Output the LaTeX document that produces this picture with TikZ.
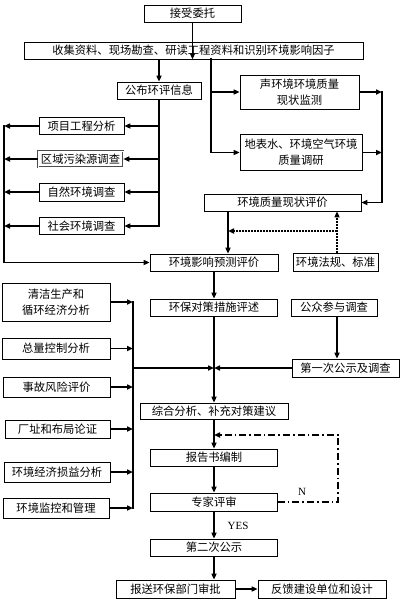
\documentclass[tikz,border=0pt]{standalone}
\usepackage{fontspec}
\setmainfont{Liberation Serif}
\newfontfamily\cjk{Noto Sans CJK SC}
\usetikzlibrary{arrows.meta}
\tikzset{
  wh/.style 2 args={minimum width=#1pt, minimum height=#2pt},
  box/.style={draw, line width=0.7pt, inner sep=0pt, align=center,
    font=\cjk\fontsize{11.3}{16}\selectfont},
  dbox/.style={box, draw=black!70, double=white, double distance=0.8pt, line width=0.5pt},
  ln/.style={line width=1.5pt, line cap=rect},
  arr/.style={line width=1.5pt, -{Triangle[length=6pt,width=5pt]}},
  dotarr/.style={line width=1.6pt, dash pattern=on 1.6pt off 1.4pt, -{Triangle[length=6pt,width=5pt]}},
  ddarr/.style={line width=1.5pt, dash pattern=on 7pt off 3pt on 1.6pt off 3pt, -{Triangle[length=6pt,width=5pt]}},
  lab/.style={inner sep=0pt, font=\fontsize{11}{13}\selectfont}
}
\begin{document}
\begin{tikzpicture}[x=1pt,y=-1pt]
\useasboundingbox[fill=white] (0,0) rectangle (405,605);
% nodes
\node[box, wh={97}{17}] (wt) at (192.5,13.5) {接受委托};
\node[box, wh={339}{17}] (sj) at (193.5,50.5) {收集资料、现场勘查、研读工程资料和识别环境影响因子};
\node[box, wh={84}{17}] (gb) at (159,90.5) {公布环评信息};
\node[box, wh={119}{34}] (sh) at (299.5,92) {声环境环境质量\\现状监测};
\node[box, wh={122}{36}] (db) at (301,152.5) {地表水、环境空气环境\\质量调研};
\node[box, wh={85}{17}] (xm) at (81.5,126) {项目工程分析};
\node[dbox, wh={85}{16}] (qy) at (80.5,159) {区域污染源调查};
\node[box, wh={85}{18}] (zr) at (81.5,192) {自然环境调查};
\node[box, wh={85}{17}] (shh) at (81.5,226) {社会环境调查};
\node[box, wh={157}{17}] (zl) at (282.5,202.5) {环境质量现状评价};
\node[box, wh={128}{17}] (yc) at (214,262.5) {环境影响预测评价};
\node[box, wh={85}{18}] (fg) at (335.5,262) {环境法规、标准};
\node[box, wh={127}{17}] (hb) at (214,307.5) {环保对策措施评述};
\node[box, wh={86}{17}] (gz) at (334,307.5) {公众参与调查};
\node[box, wh={107}{18}] (dy) at (345.5,368) {第一次公示及调查};
\node[box, wh={148}{16}] (zh) at (214,411) {综合分析、补充对策建议};
\node[box, wh={127}{17}] (bg) at (214,457.5) {报告书编制};
\node[box, wh={127}{18}] (zj) at (214,502) {专家评审};
\node[box, wh={127}{17}] (de) at (214,547.5) {第二次公示};
\node[box, wh={119}{18}] (bs) at (175.5,589) {报送环保部门审批};
\node[box, wh={128}{18}] (fk) at (322,589) {反馈建设单位和设计};
\node[box, wh={108}{38}] (qj) at (56,302) {清洁生产和\\循环经济分析};
\node[box, wh={108}{21}] (zk) at (56,348.5) {总量控制分析};
\node[box, wh={107}{20}] (sg) at (56.5,387) {事故风险评价};
\node[box, wh={105}{18}] (cz) at (57.5,429) {厂址和布局论证};
\node[box, wh={106}{20}] (jj) at (57,472) {环境经济损益分析};
\node[box, wh={106}{20}] (jk) at (56,508) {环境监控和管理};
\node[lab] (nl) at (302,492) {N};
\node[lab] (yl) at (238,526) {YES};
% helper coordinates
\coordinate (s1) at (211,59);
\coordinate (rb) at (382,0);
\coordinate (lb) at (4,0);
\coordinate (p1) at (228,0);
\coordinate (p2) at (337,0);
\coordinate (d1) at (337,231);
\coordinate (b2) at (133,0);
\coordinate (c1) at (338,435);
% top part
\draw[arr] (wt.south) -- (wt.south |- sj.south);
\draw[arr] (gb.north |- sj.south) -- (gb.north);
\draw[ln] (s1) -- (s1 |- db.west);
\draw[arr] (s1 |- db.west) -- (db.west);
\draw[arr] (s1 |- sh.west) -- (sh.west);
\draw[arr] (sh.east) -- (sh.east -| rb);
\draw[arr] (db.east) -- (db.east -| rb);
\draw[ln] (sh.east -| rb) -- (zl.east -| rb);
\draw[arr] (zl.east -| rb) -- (zl.east);
% left group
\draw[ln] (gb.south) -- (gb.south |- shh.east);
\draw[arr] (gb.south |- xm.east) -- (xm.east);
\draw[arr] (gb.south |- qy.east) -- (qy.east);
\draw[arr] (gb.south |- zr.east) -- (zr.east);
\draw[arr] (gb.south |- shh.east) -- (shh.east);
\draw[arr] (xm.west) -- (xm.west -| lb);
\draw[arr] (qy.west) -- (qy.west -| lb);
\draw[arr] (zr.west) -- (zr.west -| lb);
\draw[arr] (shh.west) -- (shh.west -| lb);
\draw[ln] (xm.west -| lb) -- (lb |- yc.west);
\draw[arr] (lb |- yc.west) -- (yc.west);
% evaluation
\draw[arr] (zl.south -| p1) -- (yc.north -| p1);
\draw[dotarr] (fg.north -| p2) -- (zl.south -| p2);
\draw[dotarr] (d1) -- (d1 -| p1);
% main spine
\draw[arr] (yc.south) -- (hb.north);
\draw[arr] (hb.south) -- (zh.north);
\draw[arr] (p2 |- gz.south) -- (p2 |- dy.north);
\draw[arr] (dy.west) -- (dy.west -| hb.south);
\draw[arr] (b2 |- dy.west) -- (dy.west -| hb.south);
\draw[ln] (b2 |- qj.east) -- (b2 |- jk.east);
\draw[arr] (qj.east) -- (qj.east -| b2);
\draw[arr] (zk.east) -- (zk.east -| b2);
\draw[arr] (sg.east) -- (sg.east -| b2);
\draw[arr] (cz.east) -- (cz.east -| b2);
\draw[arr] (jj.east) -- (jj.east -| b2);
\draw[arr] (jk.east) -- (jk.east -| b2);
\draw[arr] (zh.south) -- (bg.north);
\draw[arr] (bg.south) -- (zj.north);
\draw[ddarr] (zj.east) -| (c1) -- (c1 -| zh.south);
\draw[arr] (zj.south) -- (de.north);
\draw[arr] (de.south) -- (de.south |- bs.north);
\draw[arr] (bs.east) -- (fk.west);
\end{tikzpicture}
\end{document}
